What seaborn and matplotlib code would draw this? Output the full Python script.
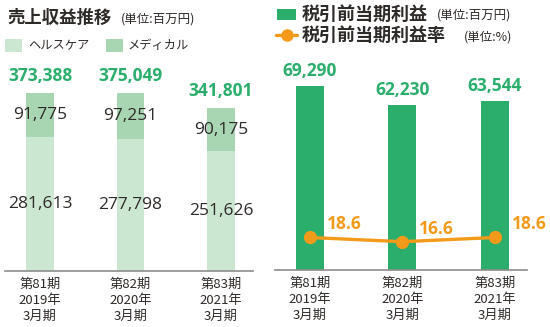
import matplotlib
matplotlib.use("Agg")
import matplotlib.pyplot as plt
from matplotlib.patches import Rectangle
from matplotlib.lines import Line2D
import seaborn as sns
import pandas as pd

# ---- data ----
periods = ["第81期\n2019年\n3月期", "第82期\n2020年\n3月期", "第83期\n2021年\n3月期"]
healthcare = [281613, 277798, 251626]
medical = [91775, 97251, 90175]
totals = [373388, 375049, 341801]
pretax_profit = [69290, 62230, 63544]
pretax_margin = [18.6, 16.6, 18.6]

sns.set_theme(style="white")
FONT = ["Noto Sans CJK JP", "DejaVu Sans"]
NUM = ["Open Sans", "DejaVu Sans"]
plt.rcParams["font.family"] = FONT

C_HC = "#CBE6D1"
C_MED = "#A8D5B2"
C_GREEN = "#2BAE6C"
C_ORANGE = "#F39A1B"
C_TXT = "#2E2A28"
C_AX = "#8C8C8C"

W, H = 550, 327
fig = plt.figure(figsize=(W / 100, H / 100), dpi=100)


def fx(x):
    return x / W


def fy(y):
    return 1 - y / H


def axes_px(x0, x1, ytop, ybase):
    return fig.add_axes([fx(x0), fy(ybase), (x1 - x0) / W, (ybase - ytop) / H])


df = pd.DataFrame({"period": periods, "healthcare": healthcare, "medical": medical,
                   "total": totals, "profit": pretax_profit, "margin": pretax_margin})

# ---------------- left panel ----------------
axL = axes_px(5, 253, 60, 270.7)
sns.barplot(data=df, x="period", y="total", color=C_MED, width=0.309, ax=axL,
            saturation=1, edgecolor="none")
sns.barplot(data=df, x="period", y="healthcare", color=C_HC, width=0.309, ax=axL,
            saturation=1, edgecolor="none")
axL.set_xlim(-0.387, 2.354)
axL.set_ylim(0, 210.7 / 4.751e-4)
for i in range(len(periods)):
    axL.annotate(f"{totals[i]:,}", (i, totals[i]), xytext=(0, 17), textcoords="offset pixels",
                 ha="center", va="center", fontsize=12.5, fontweight="bold", color=C_GREEN,
                 family=NUM)
    axL.text(i, healthcare[i] + medical[i] / 2, f"{medical[i]:,}", ha="center", va="center",
             fontsize=12.5, color=C_TXT, family=NUM)
    axL.text(i, healthcare[i] / 2, f"{healthcare[i]:,}", ha="center", va="center",
             fontsize=12.5, color=C_TXT, family=NUM)

# ---------------- right panel ----------------
axR = axes_px(275, 527, 60, 269.5)
sns.barplot(data=df, x="period", y="profit", color=C_GREEN, width=0.303, ax=axR,
            saturation=1, edgecolor="none")
axR.set_xlim(-0.378, 2.346)
axR.set_ylim(0, 209.5 / 0.002648)
for i in range(len(periods)):
    axR.annotate(f"{pretax_profit[i]:,}", (i, pretax_profit[i]), xytext=(0, 15),
                 textcoords="offset pixels", ha="center", va="center", fontsize=12.5,
                 fontweight="bold", color=C_GREEN, family=NUM)

axR2 = axR.twinx()
sns.lineplot(x=[0, 1, 2], y=pretax_margin, ax=axR2, color=C_ORANGE, linewidth=2.4,
             marker="o", markersize=9.5, markeredgewidth=0, markerfacecolor=C_ORANGE)
axR2.set_xlim(-0.378, 2.346)
axR2.set_ylim(3.36, 103.1)
for i in range(len(periods)):
    axR2.annotate(f"{pretax_margin[i]}", (i, pretax_margin[i]), xytext=(34, 13),
                  textcoords="offset pixels", ha="center", va="center", fontsize=12.5,
                  fontweight="bold", color=C_ORANGE, family=NUM)
axR2.set_yticks([])
axR2.set_ylabel("")
for s in axR2.spines.values():
    s.set_visible(False)

for ax in (axL, axR):
    ax.set_xlabel("")
    ax.set_ylabel("")
    ax.set_yticks([])
    for k in ("top", "left", "right"):
        ax.spines[k].set_visible(False)
    ax.spines["bottom"].set_color(C_AX)
    ax.spines["bottom"].set_linewidth(1.2)
    ax.tick_params(axis="x", length=0, pad=5.5)
    for lab in ax.get_xticklabels():
        lab.set_fontsize(9.5)
        lab.set_color(C_TXT)
        lab.set_linespacing(1.28)
        lab.set_family(FONT)
    ax.patch.set_alpha(0)

# ---------------- titles / legends ----------------
fig.text(fx(7), fy(18), "売上収益推移", fontsize=12.5, fontweight="bold", color=C_TXT,
         va="center", ha="left", family=FONT)
fig.text(fx(121), fy(19), "(単位:百万円)", fontsize=9, color=C_TXT, va="center",
         ha="left", family=FONT)

fig.add_artist(Rectangle((fx(5), fy(52)), 17 / W, 13 / H, transform=fig.transFigure,
                         facecolor=C_HC, edgecolor="none"))
fig.text(fx(28), fy(45.5), "ヘルスケア", fontsize=8.8, color=C_TXT, va="center", ha="left",
         family=FONT)
fig.add_artist(Rectangle((fx(106), fy(52)), 17 / W, 13 / H, transform=fig.transFigure,
                         facecolor=C_MED, edgecolor="none"))
fig.text(fx(128), fy(45.5), "メディカル", fontsize=8.8, color=C_TXT, va="center", ha="left",
         family=FONT)

fig.add_artist(Rectangle((fx(277), fy(20)), 19 / W, 11 / H, transform=fig.transFigure,
                         facecolor=C_GREEN, edgecolor="none"))
fig.text(fx(302), fy(14), "税引前当期利益", fontsize=13, fontweight="bold", color=C_TXT,
         va="center", ha="left", family=FONT)
fig.text(fx(437), fy(15), "(単位:百万円)", fontsize=9, color=C_TXT, va="center",
         ha="left", family=FONT)
fig.add_artist(Line2D([fx(276), fx(297)], [fy(35), fy(35)], transform=fig.transFigure,
                      color=C_ORANGE, linewidth=2.4))
fig.add_artist(Line2D([fx(287)], [fy(35)], transform=fig.transFigure, color=C_ORANGE,
                      marker="o", markersize=9, markeredgewidth=0))
fig.text(fx(302), fy(35), "税引前当期利益率", fontsize=13, fontweight="bold", color=C_TXT,
         va="center", ha="left", family=FONT)
fig.text(fx(464), fy(37), "(単位:%)", fontsize=9, color=C_TXT, va="center", ha="left",
         family=FONT)

fig.savefig("out.png", dpi=100)
